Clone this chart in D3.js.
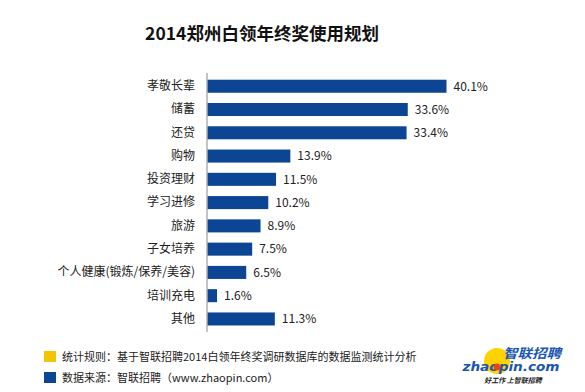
<!DOCTYPE html>
<html>
<head>
<meta charset="utf-8">
<script src="https://cdn.jsdelivr.net/npm/d3@7"></script>
<style>
  body { margin: 0; background: #fff; }
  text { font-family: "Noto Sans CJK SC", "Microsoft YaHei", sans-serif; }
</style>
</head>
<body>
<svg id="chart" width="585" height="392"></svg>
<script>
// data
const categories = ['孝敬长辈', '储蓄', '还贷', '购物', '投资理财', '学习进修',
  '旅游', '子女培养', '个人健康(锻炼/保养/美容)', '培训充电', '其他'];
const values = [40.1, 33.6, 33.4, 13.9, 11.5, 10.2, 8.9, 7.5, 6.5, 1.6, 11.3];
const notes = [
  { color: '#f5c400', text: '统计规则：基于智联招聘2014白领年终奖调研数据库的数据监测统计分析' },
  { color: '#0d4595', text: '数据来源：智联招聘（www.zhaopin.com）' }
];

const svg = d3.select('#chart');
const barColor = '#0d4595';

svg.append('text')
  .attr('x', 262).attr('y', 40)
  .attr('text-anchor', 'middle')
  .style('font-size', '17.5px').style('font-weight', 'bold')
  .attr('fill', '#111')
  .text('2014郑州白领年终奖使用规划');

const x = d3.scaleLinear().domain([0, 45]).range([207.5, 207.5 + 45 * 5.96]);
const y = d3.scaleBand().domain(categories).range([74.6, 330.6])
  .paddingInner(0.44).paddingOuter(0.22);

const rows = categories.map((c, i) => ({ cat: c, val: values[i] }));

svg.selectAll('rect.bar').data(rows).join('rect')
  .attr('class', 'bar')
  .attr('x', x(0))
  .attr('y', d => y(d.cat))
  .attr('width', d => x(d.val) - x(0))
  .attr('height', y.bandwidth())
  .attr('fill', barColor);

svg.selectAll('text.val').data(rows).join('text')
  .attr('class', 'val')
  .attr('x', d => x(d.val) + 7)
  .attr('y', d => y(d.cat) + y.bandwidth() / 2)
  .attr('dy', '0.36em')
  .style('font-size', '12px')
  .attr('fill', '#222')
  .text(d => d.val.toFixed(1) + '%');

// category axis, only the line and labels
const yAxis = svg.append('g')
  .attr('transform', `translate(${x(0) - 0.5},0)`)
  .call(d3.axisLeft(y).tickSize(0).tickPadding(12));
yAxis.select('.domain').attr('stroke', '#888').attr('d', 'M0,73V332');
yAxis.selectAll('text')
  .style('font-size', '12px')
  .style('font-family', '"Noto Sans CJK SC", sans-serif')
  .attr('fill', '#222');

// footer notes
const foot = svg.selectAll('g.note').data(notes).join('g')
  .attr('class', 'note')
  .attr('transform', (d, i) => `translate(44,${351 + i * 21})`);
foot.append('rect')
  .attr('width', 12).attr('height', 11)
  .attr('fill', d => d.color);
foot.append('text')
  .attr('x', 18).attr('y', 10)
  .style('font-size', '11px')
  .attr('fill', '#222')
  .text(d => d.text);

// logo
const logo = svg.append('g');
logo.append('circle').attr('cx', 497).attr('cy', 361).attr('r', 13).attr('fill', '#ffd200');
logo.append('text')
  .attr('x', 532).attr('y', 358)
  .attr('text-anchor', 'middle')
  .style('font-size', '13px').style('font-weight', 'bold').style('font-style', 'italic')
  .attr('textLength', 58).attr('lengthAdjust', 'spacingAndGlyphs')
  .attr('fill', '#1a56b0')
  .text('智联招聘');
logo.append('text')
  .attr('x', 511).attr('y', 371)
  .attr('text-anchor', 'middle')
  .style('font-family', '"DejaVu Sans", sans-serif')
  .style('font-size', '12px').style('font-weight', 'bold').style('font-style', 'italic')
  .attr('textLength', 97).attr('lengthAdjust', 'spacingAndGlyphs')
  .attr('fill', '#1a56b0')
  .text('zhaopin.com');
logo.append('circle').attr('cx', 497).attr('cy', 367).attr('r', 3.5).attr('fill', '#e8441a');
logo.append('text')
  .attr('x', 513).attr('y', 383)
  .attr('text-anchor', 'middle')
  .style('font-size', '7px').style('font-weight', 'bold').style('font-style', 'italic')
  .attr('fill', '#222')
  .text('好工作  上智联招聘');
</script>
</body>
</html>
